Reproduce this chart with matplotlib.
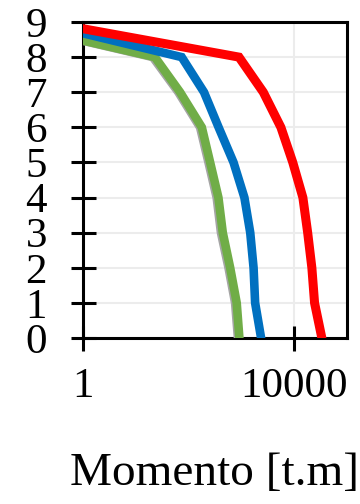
import matplotlib
matplotlib.use("Agg")
import matplotlib.pyplot as plt

# Floor levels (y) and moment values (x, log scale)
levels = [9, 8, 7, 6, 5, 4, 3, 2, 1, 0]
red_vals = [0.2, 900, 2600, 5600, 9400, 14600, 18000, 21600, 24300, 33400]
blue_vals = [0.13, 74, 196, 370, 710, 1140, 1470, 1700, 1820, 2360]
green_vals = [0.03, 23, 69, 178, 256, 367, 444, 613, 815, 916]
gray_vals = [0.03, 21, 64, 165, 238, 340, 410, 570, 760, 860]

x_ticks = [1, 10000]
x_ticklabels = ["1", "10000"]
y_ticks = list(range(0, 10))

plt.rcParams['font.family'] = ['Liberation Serif', 'DejaVu Serif']

fig = plt.figure(figsize=(3.6, 5.04), dpi=100)
ax = fig.add_axes([83/360, 1 - 338/504, (347-83)/360, (338-22)/504])

lw = 6.2
ax.plot(gray_vals, levels, color="#a5a5a5", lw=lw, solid_joinstyle='miter', zorder=3)
ax.plot(green_vals, levels, color="#70ad47", lw=lw, solid_joinstyle='miter', zorder=4)
ax.plot(blue_vals, levels, color="#0070c0", lw=lw, solid_joinstyle='miter', zorder=5)
ax.plot(red_vals, levels, color="#ff0000", lw=lw + 0.3, solid_joinstyle='miter', zorder=6)

ax.set_xscale('log')
ax.set_xlim(1, 1e5)
ax.set_ylim(0, 9)
ax.set_xticks(x_ticks)
ax.set_xticklabels(x_ticklabels)
ax.xaxis.set_minor_locator(matplotlib.ticker.NullLocator())
ax.set_yticks(y_ticks)

ax.grid(True, color="#ececec", lw=1.5, zorder=0)
ax.set_axisbelow(True)

for s in ax.spines.values():
    s.set_linewidth(2.2)
    s.set_color("black")

ax.tick_params(axis='both', which='major', direction='inout', length=18, width=2.2,
               labelsize=31, colors='black')
ax.tick_params(axis='y', pad=17)
ax.tick_params(axis='x', pad=12)

ax.set_xlabel("Momento [t.m]", fontsize=34, labelpad=34)

fig.savefig("out.png", dpi=100)
